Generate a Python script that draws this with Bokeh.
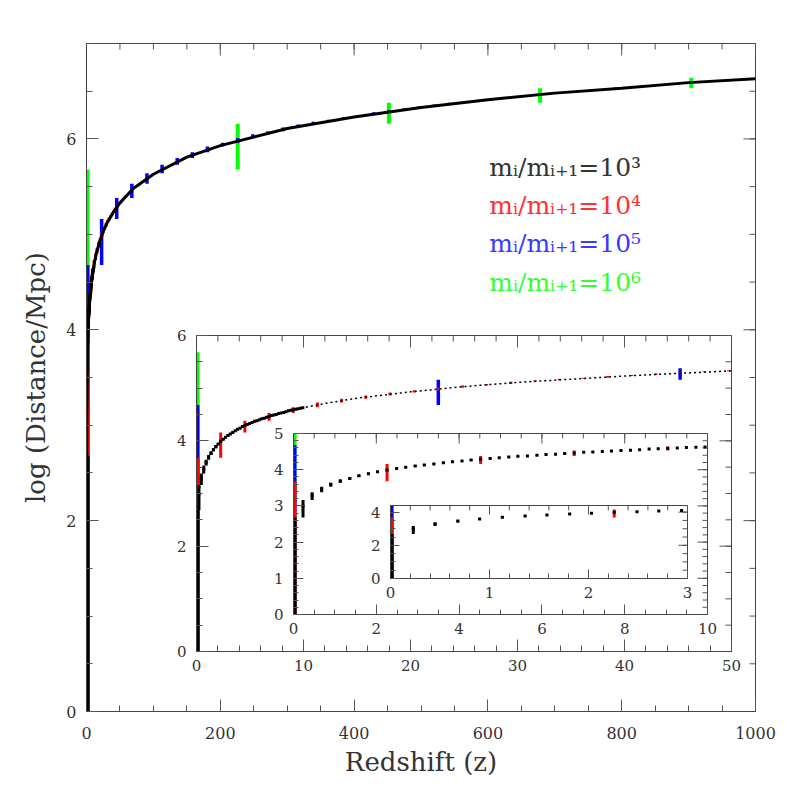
import numpy as np
from bokeh.plotting import figure
from bokeh.models import Range1d, FixedTicker, LinearAxis, Label, ColumnDataSource
from bokeh.layouts import column
from bokeh.embed import file_html
from bokeh.resources import INLINE

# ---------------- data ----------------
# series m_i/m_{i+1}=10^3 (black): redshift, log distance at point, error-bar bottom, error-bar top
black_z = [0, 0.23, 0.45, 0.68, 0.90, 1.13, 1.36, 1.58, 1.81, 2.03, 2.26, 2.49, 2.71, 2.94, 3.16,
           3.39, 3.62, 3.84, 4.07, 4.29, 4.52, 4.75, 4.97, 5.20, 5.42, 5.65, 5.88, 6.10, 6.33, 6.55,
           6.78, 7.01, 7.23, 7.46, 7.68, 7.91, 8.14, 8.36, 8.59, 8.81, 9.04, 9.27, 9.49, 9.72, 9.94]
black_mid = [None, 2.99, 3.29, 3.46, 3.59, 3.69, 3.76, 3.83, 3.89, 3.94, 3.99, 4.03, 4.07, 4.10, 4.13,
             4.16, 4.19, 4.22, 4.24, 4.27, 4.29, 4.31, 4.33, 4.35, 4.37, 4.38, 4.40, 4.42, 4.43, 4.45,
             4.46, 4.48, 4.49, 4.50, 4.52, 4.53, 4.54, 4.55, 4.57, 4.58, 4.59, 4.60, 4.61, 4.62, 4.63]
black_lo = [0, 2.68, 3.16, 3.38, 3.53, 3.64, 3.73, 3.80, 3.86, 3.92, 3.96, 4.01, 4.05, 4.08, 4.12,
            4.15, 4.18, 4.20, 4.23, 4.25, 4.28, 4.30, 4.32, 4.34, 4.36, 4.38, 4.39, 4.41, 4.43, 4.44,
            4.46, 4.47, 4.48, 4.50, 4.51, 4.52, 4.54, 4.55, 4.56, 4.57, 4.58, 4.59, 4.60, 4.61, 4.62]
black_hi = [2.68, 3.16, 3.38, 3.53, 3.64, 3.73, 3.80, 3.86, 3.92, 3.96, 4.01, 4.05, 4.08, 4.12, 4.15,
            4.18, 4.20, 4.23, 4.25, 4.28, 4.30, 4.32, 4.34, 4.36, 4.38, 4.39, 4.41, 4.43, 4.44, 4.46,
            4.47, 4.48, 4.50, 4.51, 4.52, 4.54, 4.55, 4.56, 4.57, 4.58, 4.59, 4.60, 4.61, 4.62, 4.63]

# series m_i/m_{i+1}=10^4 (red)
red_z = [0, 2.26, 4.52, 6.78, 9.04, 11.3, 13.56, 15.82, 18.08, 20.34, 22.6, 24.86, 27.12, 29.38,
         31.64, 33.9, 36.16, 38.42, 40.68, 42.94, 45.2, 47.46, 49.72]
red_lo = [0, 3.68, 4.16, 4.38, 4.53, 4.64, 4.73, 4.80, 4.86, 4.92, 4.96, 5.01, 5.05, 5.08, 5.12,
          5.15, 5.18, 5.20, 5.23, 5.25, 5.28, 5.30, 5.32]
red_hi = [3.68, 4.16, 4.38, 4.53, 4.64, 4.73, 4.80, 4.86, 4.92, 4.96, 5.01, 5.05, 5.08, 5.12, 5.15,
          5.18, 5.20, 5.23, 5.25, 5.28, 5.30, 5.32, 5.34]

# series m_i/m_{i+1}=10^5 (blue)
blue_z = [0, 22.6, 45.2, 67.8, 90.4, 113, 135.6, 158.2, 180.8, 203.4, 226, 248.6, 271.2, 293.8,
          316.4, 339, 361.6, 384.2, 406.8, 429.4, 452, 474.6, 497.2, 519.8, 542.4, 565, 587.6,
          610.2, 632.8, 655.4, 678, 700.6, 723.2, 745.8, 768.4, 791, 813.6, 836.2, 858.8, 881.4,
          904, 926.6, 949.2, 971.8, 994.4]
blue_lo = [0, 4.68, 5.16, 5.38, 5.53, 5.64, 5.73, 5.80, 5.86, 5.92, 5.96, 6.01, 6.05, 6.08, 6.12,
           6.15, 6.18, 6.20, 6.23, 6.25, 6.28, 6.30, 6.32, 6.34, 6.36, 6.38, 6.39, 6.41, 6.43, 6.44,
           6.46, 6.47, 6.48, 6.50, 6.51, 6.52, 6.54, 6.55, 6.56, 6.57, 6.58, 6.59, 6.60, 6.61, 6.62]
blue_hi = [4.68, 5.16, 5.38, 5.53, 5.64, 5.73, 5.80, 5.86, 5.92, 5.96, 6.01, 6.05, 6.08, 6.12, 6.15,
           6.18, 6.20, 6.23, 6.25, 6.28, 6.30, 6.32, 6.34, 6.36, 6.38, 6.39, 6.41, 6.43, 6.44, 6.46,
           6.47, 6.48, 6.50, 6.51, 6.52, 6.54, 6.55, 6.56, 6.57, 6.58, 6.59, 6.60, 6.61, 6.62, 6.63]

# series m_i/m_{i+1}=10^6 (green)
green_z = [0, 226, 452, 678, 904]
green_lo = [0, 5.68, 6.16, 6.38, 6.53]
green_hi = [5.68, 6.16, 6.38, 6.53, 6.64]

# dense black curve
curve_z = [0.1, 0.2, 0.3, 0.5, 0.75, 1, 1.5, 2, 3, 4, 5, 7, 10, 12, 15, 20, 25, 30, 40, 50, 70,
           100, 150, 200, 300, 400, 500, 600, 700, 800, 900, 1000]
curve_logd = [2.63, 2.93, 3.11, 3.33, 3.51, 3.63, 3.81, 3.93, 4.11, 4.23, 4.33, 4.48, 4.63, 4.71,
              4.81, 4.93, 5.03, 5.11, 5.23, 5.33, 5.48, 5.63, 5.81, 5.93, 6.11, 6.23, 6.33, 6.41,
              6.48, 6.53, 6.59, 6.63]

legend_texts = ["m\u1d62/m\u1d62\u208a\u2081=10\u00b3", "m\u1d62/m\u1d62\u208a\u2081=10\u2074",
                "m\u1d62/m\u1d62\u208a\u2081=10\u2075", "m\u1d62/m\u1d62\u208a\u2081=10\u2076"]
legend_colors = ["#333333", "#ff3333", "#3a3aff", "#33ff33"]

main_x_ticks = [0, 200, 400, 600, 800, 1000]
main_y_ticks = [0, 2, 4, 6]
in1_x_ticks = [0, 10, 20, 30, 40, 50]
in1_y_ticks = [0, 2, 4, 6]
in2_x_ticks = [0, 2, 4, 6, 8, 10]
in2_y_ticks = [0, 1, 2, 3, 4, 5]
in3_x_ticks = [0, 1, 2, 3]
in3_y_ticks = [0, 2, 4]

# ---------------- styling ----------------
FONT = "DejaVu Serif"
TXT = "#333333"
FRAME = "#444444"
TICK = "#555555"
BLACK, RED, BLUE, GREEN = "#000000", "#ff0000", "#0000ff", "#00ff00"
BL, BR = 86, 34  # shared left/right borders (column aligns them)
EDGE_W = 6       # bars sitting on the left frame edge are half clipped


def bar_source(z, lo, hi, w, mid=None):
    d = dict(z=z, lo=lo, hi=hi, w=[EDGE_W if v == 0 else w for v in z])
    if mid is not None:
        d["mid"] = np.array(mid, dtype=float)
    return ColumnDataSource(d)


src_black = bar_source(black_z, black_lo, black_hi, 3, black_mid)
src_red = bar_source(red_z, red_lo, red_hi, 3)
src_blue = bar_source(blue_z, blue_lo, blue_hi, 3.5)
src_green = bar_source(green_z, green_lo, green_hi, 4)
src_curve = ColumnDataSource(dict(z=curve_z, d=curve_logd))


def make_panel(xr, yr, fw, fh, bt, bb, xt, xstep, yt, ystep, fsize, maj, mnr,
               xstand, ystand, opaque_border):
    p = figure(width=BL + fw + BR, height=bt + fh + bb,
               x_range=Range1d(*xr), y_range=Range1d(*yr),
               x_axis_location=None, y_axis_location=None,
               toolbar_location=None, output_backend="svg",
               min_border_left=BL, min_border_right=BR,
               min_border_top=bt, min_border_bottom=bb)
    p.grid.visible = False
    p.outline_line_color = FRAME
    p.outline_line_width = 1
    p.background_fill_color = "white"
    if opaque_border:
        p.border_fill_color = "white"
    else:
        p.border_fill_alpha = 0
    axes = {}
    minors = {}
    for loc, ticks, rng, step in [("below", xt, xr, xstep), ("left", yt, yr, ystep)]:
        mn = [float(v) for v in np.arange(rng[0], rng[1] + step / 2, step)]
        minors[loc] = mn
        ax = LinearAxis(ticker=FixedTicker(ticks=ticks, minor_ticks=mn))
        ax.major_tick_in = maj
        ax.major_tick_out = 0
        ax.minor_tick_in = mnr
        ax.minor_tick_out = 0
        ax.major_tick_line_color = TICK
        ax.minor_tick_line_color = TICK
        ax.axis_line_color = FRAME
        ax.major_label_text_font = FONT
        ax.major_label_text_font_size = fsize
        ax.major_label_text_color = TXT
        ax.major_label_standoff = xstand if loc == "below" else ystand
        p.add_layout(ax, loc)
        axes[loc] = ax
    # mirrored ticks on the top and right edges (pointing inward)
    p.ray(x=xt, y=[yr[1]] * len(xt), length=maj, length_units="screen", angle=-np.pi / 2,
          line_color=TICK)
    p.ray(x=minors["below"], y=[yr[1]] * len(minors["below"]), length=mnr, length_units="screen",
          angle=-np.pi / 2, line_color=TICK)
    p.ray(x=[xr[1]] * len(yt), y=yt, length=maj, length_units="screen", angle=np.pi, line_color=TICK)
    p.ray(x=[xr[1]] * len(minors["left"]), y=minors["left"], length=mnr, length_units="screen",
          angle=np.pi, line_color=TICK)
    return p, axes


def draw_series(p, curve_w, curve_dash, mark_size):
    p.segment(x0="z", y0="lo", x1="z", y1="hi", source=src_green, line_width="w", line_color=GREEN)
    p.segment(x0="z", y0="lo", x1="z", y1="hi", source=src_blue, line_width="w", line_color=BLUE)
    p.segment(x0="z", y0="lo", x1="z", y1="hi", source=src_red, line_width="w", line_color=RED)
    if curve_w:
        p.line(x="z", y="d", source=src_curve, line_width=curve_w, line_color=BLACK, line_dash=curve_dash)
    p.segment(x0="z", y0="lo", x1="z", y1="hi", source=src_black, line_width="w", line_color=BLACK)
    p.scatter(x="z", y="mid", source=src_black, marker="square", size=mark_size,
              fill_color=BLACK, line_color=None)


# main panel: frame at page (86,43)-(755,711)
main, max_ = make_panel((0, 1000), (0, 7), 669, 668, 43, 82,
                        main_x_ticks, 50, main_y_ticks, 0.5, "16px", 12, 6, 15, 10, True)
max_["below"].axis_label = "Redshift (z)"
max_["left"].axis_label = "log (Distance/Mpc)"
for ax in (max_["below"], max_["left"]):
    ax.axis_label_text_font = FONT
    ax.axis_label_text_font_size = "26px"
    ax.axis_label_text_font_style = "normal"
    ax.axis_label_text_color = TXT
max_["below"].axis_label_standoff = 5
max_["left"].axis_label_standoff = 12
draw_series(main, 3, "solid", 3)
for i, (t, c) in enumerate(zip(legend_texts, legend_colors)):
    main.add_layout(Label(x=602, y=5.70 - 0.40 * i, text=t, text_color=c, text_font=FONT,
                          text_font_size="25px", text_baseline="alphabetic"))

# inset 1: frame at page (196,335)-(731,651)
in1, _ = make_panel((0, 50), (0, 6), 535, 316, 12, 30,
                    in1_x_ticks, 2, in1_y_ticks, 0.5, "15px", 12, 6, 8, 10, False)
draw_series(in1, 1.5, "2 3", 3)

# inset 2: frame at page (293,433)-(707,614)
in2, _ = make_panel((0, 10), (0, 5), 414, 181, 12, 26,
                    in2_x_ticks, 0.5, in2_y_ticks, 0.2, "15px", 10, 5, 8, 10, False)
draw_series(in2, 0, "solid", 3)

# inset 3: frame at page (390,505)-(687,578)
in3, _ = make_panel((0, 3), (0, 4.4), 297, 73, 12, 26,
                    in3_x_ticks, 0.2, in3_y_ticks, 0.5, "15px", 9, 5, 8, 10, False)
draw_series(in3, 0, "solid", 3)

in1.styles = {"position": "absolute", "left": f"{196 - BL}px", "top": f"{335 - 12}px"}
in2.styles = {"position": "absolute", "left": f"{293 - BL}px", "top": f"{433 - 12}px"}
in3.styles = {"position": "absolute", "left": f"{390 - BL}px", "top": f"{505 - 12}px"}

layout = column(main, in1, in2, in3)
open("out.html", "w").write(file_html(layout, INLINE))
